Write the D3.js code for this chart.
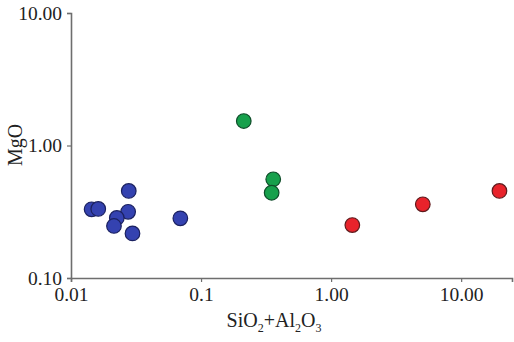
<!DOCTYPE html>
<html lang="en">
<head>
<meta charset="UTF-8">
<title>MgO vs SiO2+Al2O3</title>
<script src="https://d3js.org/d3.v7.min.js"></script>
<style>
    body { margin: 0; background: #fff; }
    text { font-family: "Liberation Serif", "Times New Roman", serif; fill: #222; }
</style>
</head>
<body>
<div id="chart"></div>
<script>
    // data
    const blueX = [0.0144, 0.0162, 0.0278, 0.0275, 0.0225, 0.0214, 0.0297, 0.0693];
    const blueY = [0.330, 0.332, 0.454, 0.316, 0.284, 0.247, 0.217, 0.282];
    const greenX = [0.213, 0.359, 0.349];
    const greenY = [1.53, 0.556, 0.44];
    const redX = [1.456, 5.07, 19.7];
    const redY = [0.251, 0.36, 0.454];

    const xTicks = [0.01, 0.1, 1, 10];
    const xTickLabels = ["0.01", "0.1", "1.00", "10.00"];
    const yTicks = [0.1, 1, 10];
    const yTickLabels = ["0.10", "1.00", "10.00"];

    const groups = [
        {xs: blueX, ys: blueY, fill: "#3442b0", stroke: "#1b2160"},
        {xs: greenX, ys: greenY, fill: "#17a04c", stroke: "#0f4d2a"},
        {xs: redX, ys: redY, fill: "#e8232b", stroke: "#5e1a1c"}
    ];

    const W = 514, H = 342;
    const margin = {top: 13, right: 2, bottom: 64, left: 71};
    const width = W - margin.left - margin.right,
          height = H - margin.top - margin.bottom;

    const svg = d3.select("#chart").append("svg")
        .attr("width", W).attr("height", H);
    const g = svg.append("g").attr("transform", `translate(${margin.left},${margin.top})`);

    const x = d3.scaleLog().domain([0.01, 24.6]).range([0, width]);
    const y = d3.scaleLog().domain([0.1, 10]).range([height, 0]);

    // axes
    const xAxis = g.append("g")
        .attr("transform", `translate(0,${height})`)
        .call(d3.axisBottom(x).tickValues(xTicks).tickSize(4).tickPadding(5)
            .tickFormat((d, i) => xTickLabels[i]));
    const yAxis = g.append("g")
        .call(d3.axisLeft(y).tickValues(yTicks).tickSize(4).tickPadding(5)
            .tickFormat((d, i) => yTickLabels[i]));

    [xAxis, yAxis].forEach(a => {
        a.attr("font-family", null);
        a.select(".domain").attr("stroke", "#6e6e6e").attr("stroke-width", 1.6);
        a.selectAll(".tick line").attr("stroke", "#6e6e6e").attr("stroke-width", 1.2);
        a.selectAll(".tick text")
            .style("font-family", "'Liberation Serif', 'Times New Roman', serif")
            .style("font-size", "19.5px").attr("fill", "#222");
    });

    // points
    groups.forEach(grp => {
        g.selectAll(null)
            .data(grp.xs.map((v, i) => [v, grp.ys[i]]))
            .enter().append("circle")
            .attr("cx", d => x(d[0]))
            .attr("cy", d => y(d[1]))
            .attr("r", 7.3)
            .attr("fill", grp.fill)
            .attr("stroke", grp.stroke)
            .attr("stroke-width", 1.2);
    });

    // axis titles
    const xt = svg.append("text")
        .attr("x", 274).attr("y", 327)
        .attr("text-anchor", "middle")
        .style("font-size", "20px");
    xt.append("tspan").text("SiO");
    xt.append("tspan").text("2").attr("dy", 5).style("font-size", "12px");
    xt.append("tspan").text("+Al").attr("dy", -5);
    xt.append("tspan").text("2").attr("dy", 5).style("font-size", "12px");
    xt.append("tspan").text("O").attr("dy", -5);
    xt.append("tspan").text("3").attr("dy", 5).style("font-size", "12px");

    svg.append("text")
        .attr("transform", "translate(22,145) rotate(-90)")
        .attr("text-anchor", "middle")
        .style("font-size", "20px")
        .text("MgO");
</script>
</body>
</html>
